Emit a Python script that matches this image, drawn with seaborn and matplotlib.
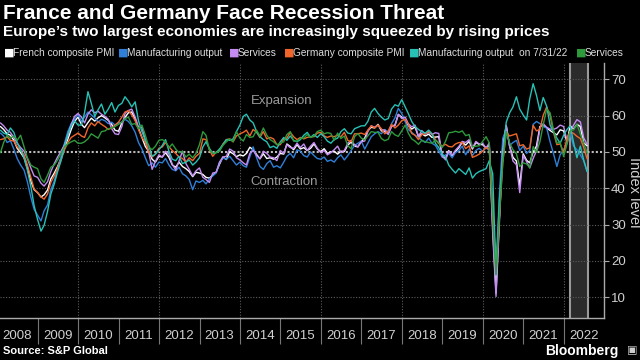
import pandas as pd
import matplotlib
matplotlib.use("Agg")
import matplotlib.pyplot as plt
import numpy as np
import seaborn as sns

# monthly PMI readings, Jan 2008 - Jul 2022
fr_comp = [
    57.0, 56.2, 55.0, 54.6, 53.2, 51.0, 49.8, 48.4, 45.6, 42.0, 39.6, 38.8,
    37.6, 38.2, 39.5, 42.6, 44.2, 46.0, 48.3, 51.0, 53.5, 56.2, 58.4, 59.6,
    57.6, 56.7, 58.1, 59.3, 58.5, 59.4, 60.0, 59.4, 58.7, 57.6, 56.0, 55.7,
    58.0, 59.5, 60.8, 61.0, 59.0, 56.5, 54.0, 51.5, 50.2, 48.0, 47.2, 48.8,
    48.6, 49.8, 48.5, 46.4, 45.8, 47.2, 46.0, 45.4, 44.6, 43.2, 44.4, 44.2,
    43.8, 43.0, 42.8, 43.6, 44.4, 46.6, 48.6, 47.9, 50.1, 49.5, 48.7, 49.2,
    48.9, 49.6, 51.3, 50.6, 49.3, 48.1, 49.5, 48.2, 48.4, 48.0, 48.6, 49.6,
    49.4, 52.2, 51.5, 50.6, 52.0, 50.8, 51.2, 50.4, 51.0, 52.2, 50.8, 50.1,
    50.9, 49.6, 50.0, 50.2, 49.4, 50.2, 50.1, 51.9, 52.7, 51.6, 51.4, 52.9,
    53.8, 55.9, 56.8, 56.6, 57.6, 55.8, 55.6, 55.1, 57.1, 57.4, 60.3, 59.6,
    58.6, 57.3, 56.3, 56.9, 54.2, 55.0, 54.4, 54.9, 54.0, 54.1, 54.2, 48.7,
    48.2, 50.4, 48.9, 50.1, 51.2, 52.7, 51.9, 52.9, 50.8, 52.6, 52.1, 52.0,
    51.1, 52.0, 28.9, 11.1, 32.1, 51.7, 57.3, 51.6, 48.5, 47.5, 40.6, 49.5,
    47.7, 47.0, 50.0, 51.6, 57.0, 57.4, 56.6, 55.9, 55.3, 54.7, 56.1, 55.8,
    52.7, 57.2, 56.3, 57.6, 57.0, 52.5, 51.7]

fr_mfg = [
    55.2, 54.4, 52.6, 53.1, 50.8, 48.2, 46.4, 45.0, 41.8, 37.6, 34.2, 32.6,
    31.0, 33.8, 35.4, 39.6, 42.0, 45.4, 48.6, 52.4, 55.6, 57.8, 59.0, 60.4,
    58.4, 59.6, 61.0, 60.2, 59.4, 58.2, 59.0, 58.6, 57.8, 58.2, 57.4, 58.0,
    58.2, 59.0, 58.4, 57.2, 55.4, 52.6, 50.8, 48.4, 46.2, 47.0, 45.8, 47.2,
    47.0, 48.2, 46.4, 45.2, 44.8, 45.8, 44.0, 43.4, 42.4, 39.6, 42.0, 41.6,
    42.2, 41.2, 42.6, 43.4, 44.2, 47.0, 48.4, 48.0, 48.8, 47.6, 46.4, 47.2,
    46.2, 45.8, 48.6, 51.4, 48.4, 46.0, 45.2, 46.8, 47.6, 45.8, 46.2, 45.6,
    47.2, 48.8, 49.6, 48.4, 50.6, 50.2, 49.0, 48.6, 50.0, 49.0, 48.2, 48.0,
    48.6, 47.4, 47.8, 47.2, 48.4, 49.2, 47.8, 49.0, 50.4, 51.8, 52.4, 53.0,
    50.8, 52.4, 54.2, 55.0, 55.6, 55.0, 56.2, 55.4, 57.8, 59.4, 62.0, 60.6,
    58.4, 56.2, 55.4, 54.6, 54.0, 53.2, 52.6, 53.8, 52.4, 51.8, 50.2, 48.6,
    49.2, 49.6, 48.4, 49.8, 50.4, 51.6, 49.2, 50.8, 49.0, 50.4, 51.0, 50.2,
    51.2, 50.4, 34.8, 18.0, 38.6, 53.8, 56.2, 51.8, 52.6, 53.2, 50.4, 51.6,
    49.6, 50.4, 57.6, 58.4, 57.8, 57.0, 56.6, 52.8, 49.6, 46.0, 49.2, 50.6,
    52.4, 55.2, 51.6, 50.6, 49.2, 47.6, 44.6]

fr_serv = [
    58.0, 57.2, 56.0, 55.4, 54.0, 52.4, 51.2, 50.2, 48.2, 45.6, 43.4, 43.0,
    41.4, 40.6, 41.8, 44.6, 46.8, 48.6, 50.2, 52.0, 54.4, 57.6, 59.8, 60.6,
    59.6, 58.0, 60.4, 61.6, 60.8, 61.2, 60.4, 59.8, 59.0, 56.4, 55.0, 54.8,
    57.0, 60.6, 61.4, 61.8, 59.6, 56.8, 56.8, 53.2, 50.0, 45.2, 47.4, 49.2,
    48.6, 50.2, 49.4, 46.6, 45.0, 47.6, 50.2, 46.8, 45.2, 43.4, 44.8, 45.6,
    43.0, 42.4, 41.6, 44.2, 44.4, 47.2, 48.6, 48.8, 50.8, 50.2, 48.4, 47.8,
    47.0, 46.4, 49.6, 50.4, 49.0, 48.2, 50.2, 49.6, 48.6, 48.4, 47.6, 50.4,
    49.6, 52.0, 51.2, 51.0, 52.4, 51.2, 52.2, 50.4, 51.6, 52.6, 51.0, 49.8,
    50.4, 49.2, 49.8, 50.6, 51.6, 49.8, 50.4, 52.4, 53.2, 52.0, 51.4, 52.8,
    53.0, 55.6, 57.2, 56.8, 57.4, 56.2, 56.0, 54.8, 57.0, 57.2, 60.4, 59.2,
    59.6, 57.8, 56.9, 57.4, 54.3, 55.9, 54.9, 55.4, 54.8, 55.3, 55.1, 49.0,
    47.8, 50.2, 49.1, 50.5, 51.5, 52.9, 52.6, 53.4, 51.1, 52.9, 52.2, 52.4,
    51.0, 52.5, 27.4, 10.2, 31.1, 50.7, 57.3, 51.5, 47.5, 46.5, 38.8, 49.1,
    47.3, 45.6, 48.2, 50.3, 56.6, 57.8, 56.8, 56.3, 56.2, 56.6, 57.4, 57.0,
    53.1, 55.5, 57.4, 58.9, 58.3, 53.9, 52.1]

de_comp = [
    53.4, 53.6, 54.2, 53.2, 53.0, 51.4, 50.4, 49.2, 46.4, 43.0, 39.8, 38.8,
    37.6, 37.0, 38.4, 41.6, 43.4, 45.6, 47.8, 50.6, 52.6, 54.0, 54.6, 55.2,
    54.4, 54.0, 56.6, 58.0, 57.2, 58.4, 57.6, 57.0, 56.2, 56.6, 57.4, 58.2,
    59.6, 61.0, 61.4, 60.2, 58.6, 56.2, 54.0, 52.6, 50.2, 48.6, 49.4, 51.0,
    51.4, 52.6, 51.4, 50.4, 49.6, 48.6, 48.2, 47.2, 48.4, 47.6, 48.8, 49.6,
    53.6, 53.4, 50.6, 48.8, 50.0, 50.4, 52.2, 53.4, 53.6, 52.8, 54.4, 55.0,
    55.4, 56.0, 54.4, 56.2, 55.4, 54.0, 55.6, 53.6, 54.0, 53.6, 52.0, 52.0,
    53.6, 53.8, 55.4, 54.2, 53.4, 54.0, 53.6, 54.0, 54.2, 54.2, 55.2, 55.4,
    54.4, 54.0, 54.4, 54.2, 54.6, 54.2, 55.4, 53.2, 52.8, 55.0, 55.0, 55.2,
    54.8, 56.0, 57.2, 56.6, 57.4, 56.4, 55.0, 55.8, 57.6, 56.6, 57.4, 58.6,
    59.0, 57.6, 55.1, 54.6, 53.4, 54.8, 55.0, 55.6, 55.0, 53.4, 52.3, 51.6,
    52.1, 51.5, 51.4, 52.2, 52.6, 52.6, 50.9, 51.7, 48.5, 48.9, 49.4, 50.2,
    51.2, 50.7, 35.0, 17.4, 32.3, 47.0, 55.3, 54.4, 54.7, 55.0, 51.7, 52.0,
    50.8, 51.1, 57.3, 55.8, 56.2, 60.1, 62.4, 60.0, 55.5, 52.0, 52.2, 49.9,
    53.8, 55.6, 55.1, 54.3, 53.7, 51.3, 48.1]

de_mfg = [
    56.0, 55.2, 54.8, 56.6, 55.4, 52.6, 50.6, 48.4, 45.0, 40.6, 35.2, 31.4,
    28.2, 29.8, 33.6, 38.4, 41.2, 44.6, 47.6, 51.4, 54.8, 57.2, 58.6, 57.4,
    57.4, 60.8, 66.6, 63.4, 59.8, 61.6, 63.2, 60.4, 61.8, 63.6, 61.0, 62.8,
    63.4, 65.2, 64.0, 62.4, 63.8, 58.6, 55.6, 53.2, 51.8, 48.8, 49.4, 50.6,
    51.8, 53.4, 50.2, 48.0, 47.6, 48.8, 46.8, 47.2, 47.8, 46.4, 47.2, 48.4,
    51.4, 52.8, 51.0, 49.6, 49.8, 50.8, 52.0, 53.4, 53.2, 53.6, 55.6, 57.4,
    59.8, 60.4, 58.8, 58.0, 55.6, 54.2, 53.4, 52.8, 51.2, 51.6, 51.0, 52.8,
    54.0, 53.2, 54.4, 53.2, 52.8, 53.4, 54.6, 55.4, 54.0, 54.8, 54.0, 55.0,
    54.2, 53.0, 52.4, 53.4, 53.8, 55.6, 56.4, 55.2, 55.0, 56.4, 56.8, 57.2,
    57.2, 58.4, 61.0, 62.0, 60.6, 59.6, 58.8, 59.2, 61.8, 63.0, 62.6, 64.4,
    62.4, 60.6, 58.4, 57.0, 56.2, 55.6, 55.2, 56.0, 55.0, 52.4, 51.2, 49.4,
    48.6, 46.4, 45.2, 44.2, 45.4, 44.6, 43.8, 45.6, 42.8, 44.0, 44.6, 45.0,
    45.4, 47.6, 44.0, 16.2, 37.0, 48.6, 58.2, 60.8, 62.4, 65.2, 61.8, 60.2,
    58.8, 64.6, 68.8, 65.6, 61.4, 65.0, 62.6, 57.4, 55.6, 53.8, 52.4, 54.6,
    56.2, 57.2, 52.6, 48.4, 51.6, 47.8, 44.6]

de_serv = [
    49.8, 52.6, 54.6, 53.8, 54.4, 53.2, 54.6, 51.4, 48.4, 46.4, 45.8, 45.4,
    42.6, 41.6, 43.6, 45.8, 46.4, 47.8, 49.6, 51.4, 52.2, 52.8, 53.2, 52.4,
    52.4, 52.8, 53.6, 55.0, 54.4, 53.8, 55.6, 55.8, 56.4, 56.6, 57.0, 57.6,
    58.2, 59.2, 59.6, 57.6, 57.8, 56.4, 57.4, 54.6, 51.4, 50.6, 51.6, 53.2,
    53.4, 52.8, 51.2, 52.2, 50.8, 49.8, 50.2, 48.6, 49.4, 48.4, 49.6, 52.0,
    55.6, 54.6, 50.6, 49.6, 49.8, 50.2, 51.8, 52.8, 53.6, 52.8, 55.6, 53.8,
    53.0, 54.8, 54.0, 54.2, 56.0, 54.4, 56.6, 54.6, 53.4, 52.8, 52.0, 52.4,
    52.8, 54.8, 55.6, 53.0, 53.0, 53.8, 53.8, 54.8, 54.0, 54.4, 55.6, 56.0,
    55.0, 55.3, 55.1, 53.2, 55.2, 53.7, 54.4, 51.7, 50.9, 54.2, 55.1, 53.8,
    53.4, 54.4, 55.6, 55.4, 55.4, 53.7, 53.1, 53.5, 55.6, 54.7, 54.3, 55.8,
    57.4, 55.2, 53.6, 53.0, 52.1, 53.2, 52.8, 52.6, 52.4, 53.2, 52.6, 51.2,
    53.0, 55.3, 55.4, 55.7, 55.4, 55.8, 54.5, 54.8, 51.4, 51.6, 51.7, 52.9,
    54.2, 52.5, 31.7, 16.2, 32.6, 47.3, 55.6, 52.5, 50.6, 49.5, 46.0, 47.0,
    46.7, 45.7, 51.5, 49.9, 52.8, 57.5, 61.8, 60.8, 56.2, 52.4, 52.7, 48.7,
    52.2, 55.8, 56.1, 57.6, 55.0, 52.4, 49.7]

series_keys = ["fr_comp", "fr_mfg", "fr_serv", "de_comp", "de_mfg", "de_serv"]
legend_labels = ["French composite PMI", "Manufacturing output", "Services",
                 "Germany composite PMI", "Manufacturing output  on 7/31/22", "Services"]
colors = ["#ffffff", "#2f7fd8", "#c48cf2", "#f0662a", "#27c1b6", "#2e9a3c"]
years = list(range(2008, 2023))

values = [fr_comp, fr_mfg, fr_serv, de_comp, de_mfg, de_serv]
dates = pd.date_range("2008-01-01", periods=len(fr_comp), freq="MS") + pd.offsets.MonthEnd(0)

df = pd.DataFrame({
    "date": np.tile(dates, len(values)),
    "series": np.repeat(series_keys, len(dates)),
    "value": np.concatenate(values),
})

sns.set_theme(style="dark", rc={"axes.facecolor": "black", "figure.facecolor": "black"})
plt.rcParams["font.family"] = ["Liberation Sans", "DejaVu Sans"]

fig = plt.figure(figsize=(6.4, 3.6), dpi=100, facecolor="black")
ax = fig.add_axes([0.0, 0.117, 0.944, 0.708])
ax.set_facecolor("black")

# shaded period since the invasion of Ukraine
ax.axvspan(pd.Timestamp("2022-02-24"), pd.Timestamp("2022-08-05"), color="#2b2b2b", zorder=0.5, lw=0)
for d in ["2022-02-24", "2022-08-05"]:
    ax.axvline(pd.Timestamp(d), color="#9a9a9a", lw=1.5, zorder=0.6)

for v in range(10, 80, 10):
    if v == 50:
        ax.axhline(v, color="#bdbdbd", lw=1.5, ls=(0, (1, 1)), zorder=1)
    else:
        ax.axhline(v, color="#5c5c5c", lw=0.8, ls=(0, (1, 1.5)), zorder=1)
for yr in range(2010, 2023, 2):
    ax.axvline(pd.Timestamp(f"{yr}-01-01"), color="#5c5c5c", lw=0.8, ls=(0, (1, 1.5)), zorder=1)

sns.lineplot(data=df, x="date", y="value", hue="series", hue_order=series_keys,
             palette=colors, linewidth=1.0, legend=False, ax=ax, zorder=3)

ax.set_xlim(pd.Timestamp("2008-01-27"), pd.Timestamp("2023-01-01"))
ax.set_ylim(4.3, 74.5)
ax.set_xlabel("")
ax.set_ylabel("")
ax.grid(False)

for s in ["left", "top"]:
    ax.spines[s].set_visible(False)
for s in ["right", "bottom"]:
    ax.spines[s].set_color("#aaaaaa")
    ax.spines[s].set_linewidth(1.0)

# year separators and centred year labels
ax.set_xticks([pd.Timestamp(f"{y}-01-01") for y in years[1:]])
ax.set_xticklabels([])
ax.set_xticks([pd.Timestamp(f"{y}-07-01") for y in years], minor=True)
ax.set_xticklabels([str(y) for y in years], minor=True)
ax.tick_params(axis="x", which="major", length=19, width=0.8, color="#777777", direction="out", bottom=True)
ax.tick_params(axis="x", which="minor", length=0, pad=9, labelsize=9.5, labelcolor="#d0d0d0", bottom=True)

ax.yaxis.tick_right()
ax.set_yticks(range(10, 80, 10))
ax.tick_params(axis="y", which="major", right=True, length=3.5, width=0.8, color="#aaaaaa",
               labelsize=9.5, labelcolor="#d0d0d0", pad=1.5)

ax.text(pd.Timestamp("2015-01-10"), 50 + 14, "Expansion", color="#9a9a9a", fontsize=9.5, ha="center", va="center")
ax.text(pd.Timestamp("2015-02-01"), 50 - 8.2, "Contraction", color="#9a9a9a", fontsize=9.5, ha="center", va="center")

fig.text(0.99, 0.467, "Index level", rotation=270, color="#d0d0d0", fontsize=10.5, ha="center", va="center")

fig.text(0.004, 0.963, "France and Germany Face Recession Threat", color="white",
         fontsize=15, fontweight="bold", ha="left", va="center")
fig.text(0.004, 0.912, "Europe\u2019s two largest economies are increasingly squeezed by rising prices",
         color="white", fontsize=11, fontweight="bold", ha="left", va="center")

leg_x = [4, 118, 229, 284, 409, 576]
for x0, lab, c in zip(leg_x, legend_labels, colors):
    fig.text(x0 / 640, 0.853, "\u25a0", color=c, fontsize=8, ha="left", va="center",
             family=["DejaVu Sans"])
    fig.text((x0 + 9) / 640, 0.853, lab, color="#dddddd", fontsize=7.3, ha="left", va="center")

fig.text(0.004, 0.024, "Source: S&P Global", color="white", fontsize=8, fontweight="bold",
         ha="left", va="center")
fig.text(0.967, 0.024, "Bloomberg", color="white", fontsize=10, fontweight="bold",
         ha="right", va="center")
fig.text(0.988, 0.026, "\u25a3", color="#cccccc", fontsize=8, ha="center", va="center", family=["DejaVu Sans"])

fig.savefig("out.png", dpi=100, facecolor="black")
